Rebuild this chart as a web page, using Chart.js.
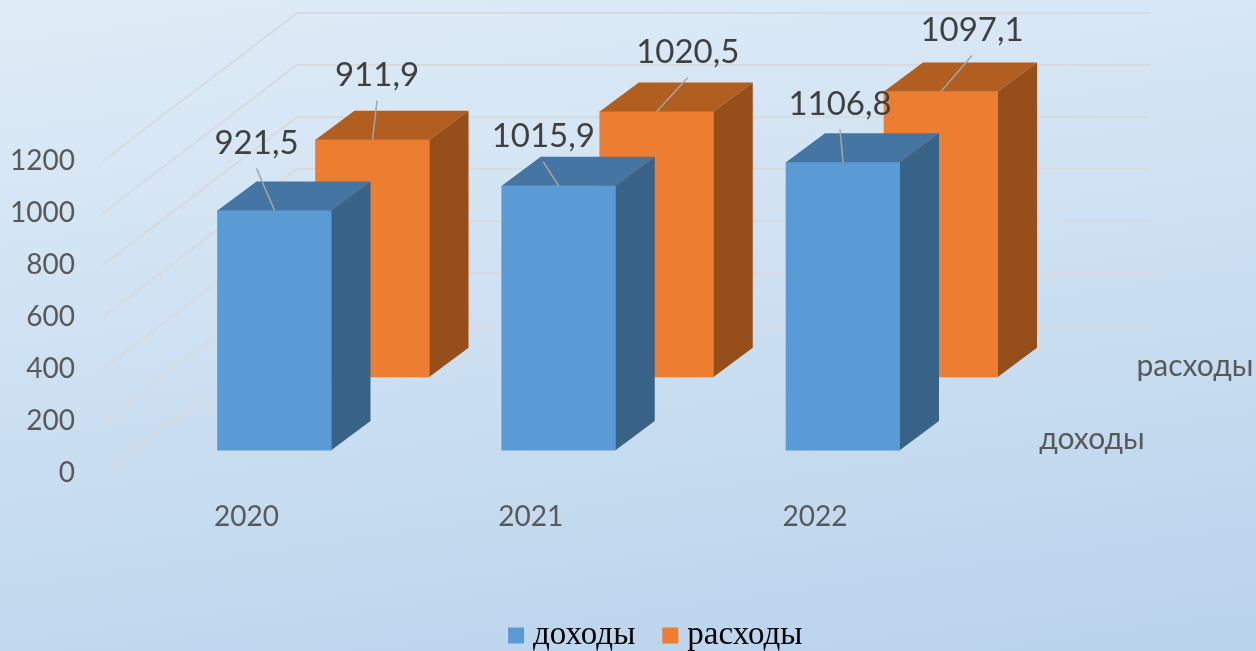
<!DOCTYPE html>
<html lang="ru">
<head>
<meta charset="utf-8">
<title>доходы и расходы</title>
<script src="https://cdn.jsdelivr.net/npm/chart.js@4"></script>
<style>
  html, body { margin: 0; padding: 0; }
  #page {
    width: 1256px; height: 651px; overflow: hidden;
    background: linear-gradient(172deg, #dfecf7 0%, #b9d3ec 100%);
  }
  canvas { display: block; }
</style>
</head>
<body>
<div id="page"><canvas id="chart" width="1318" height="662"></canvas></div>
<script>
// values
const categories = ['2020', '2021', '2022'];
const seriesNames = ['доходы', 'расходы'];
const incomes = [921.5, 1015.9, 1106.8];
const expenses = [911.9, 1020.5, 1097.1];
const yTicks = [0, 200, 400, 600, 800, 1000, 1200];

// data label offset from the top centre of each bar
const incomeLabelOffsets = [[-18, -67], [-15.5, -49], [-3, -58]];
const expenseLabelOffsets = [[4.5, -64], [31, -59], [31, -61]];

// fake 3d layout, in pixels (canvas runs past the window so the legend sits right of centre)
const plotLeft = 87, plotRight = 1318, plotTop = 30, plotBottom = 584;
const unitY = 0.2593;
const stepX = 284.25;
const depth = { x: 39, y: -29 };
const wall = { left: 103, backX: 297, backY: -148, right: 1150 };

const textColor = '#595959';
const labelColor = '#404040';
const uiFont = 'Lato, "Open Sans", sans-serif';

// min/max that put value 0 on the given pixel
function rangeY(zeroPx) {
  return { min: -(plotBottom - zeroPx) / unitY, max: (zeroPx - plotTop) / unitY };
}
function rangeX(firstPx) {
  return { min: -(firstPx - plotLeft) / stepX, max: (plotRight - firstPx) / stepX };
}

const faceColors = [
  { top: '#4576a3', side: '#386387' },
  { top: '#b15e20', side: '#964f1b' }
];

const cube3d = {
  id: 'cube3d',
  beforeDatasetsDraw(chart) {
    // walls: run in from the tick axis, then along the back
    const ctx = chart.ctx;
    const scale = chart.scales.yTick;
    ctx.save();
    ctx.strokeStyle = '#d6dbdf';
    ctx.lineWidth = 2;
    yTicks.forEach(v => {
      const py = scale.getPixelForValue(v);
      ctx.beginPath();
      ctx.moveTo(wall.left, py);
      ctx.lineTo(wall.backX, py + wall.backY);
      ctx.lineTo(wall.right, py + wall.backY);
      ctx.stroke();
    });
    ctx.restore();
  },
  afterDatasetDraw(chart, args) {
    const ctx = chart.ctx;
    const faces = faceColors[args.index];
    ctx.save();
    args.meta.data.forEach(bar => {
      const l = bar.x - bar.width / 2;
      const r = bar.x + bar.width / 2;
      ctx.fillStyle = faces.top;
      ctx.beginPath();
      ctx.moveTo(l, bar.y);
      ctx.lineTo(l + depth.x, bar.y + depth.y);
      ctx.lineTo(r + depth.x, bar.y + depth.y);
      ctx.lineTo(r, bar.y);
      ctx.closePath();
      ctx.fill();
      ctx.fillStyle = faces.side;
      ctx.beginPath();
      ctx.moveTo(r, bar.y);
      ctx.lineTo(r + depth.x, bar.y + depth.y);
      ctx.lineTo(r + depth.x, bar.base + depth.y);
      ctx.lineTo(r, bar.base);
      ctx.closePath();
      ctx.fill();
    });
    ctx.restore();
  },
  afterDatasetsDraw(chart) {
    const ctx = chart.ctx;
    const offsets = [incomeLabelOffsets, expenseLabelOffsets];
    const values = [incomes, expenses];
    ctx.save();
    ctx.textAlign = 'center';
    ctx.textBaseline = 'middle';
    [0, 1].forEach(ds => {
      chart.getDatasetMeta(ds).data.forEach((bar, i) => {
        const [dx, dy] = offsets[ds][i];
        ctx.strokeStyle = '#a6a6a6';
        ctx.lineWidth = 1.5;
        ctx.beginPath();
        ctx.moveTo(bar.x + dx, bar.y + dy + 25);
        ctx.lineTo(bar.x, bar.y);
        ctx.stroke();
        ctx.fillStyle = labelColor;
        ctx.font = '33px ' + uiFont;
        ctx.fillText(values[ds][i].toFixed(1).replace('.', ','), bar.x + dx, bar.y + dy);
      });
    });
    // names on the depth axis
    ctx.fillStyle = textColor;
    ctx.font = '30px ' + uiFont;
    ctx.fillText(seriesNames[1], 1195, 366);
    ctx.fillText(seriesNames[0], 1092, 439);
    ctx.restore();
  }
};

new Chart(document.getElementById('chart'), {
  type: 'bar',
  data: {
    datasets: [
      {
        label: seriesNames[0],
        data: incomes.map((v, i) => ({ x: i, y: v })),
        backgroundColor: '#5b9bd5',
        xAxisID: 'xFront',
        yAxisID: 'yFront'
      },
      {
        label: seriesNames[1],
        data: expenses.map((v, i) => ({ x: i, y: v })),
        backgroundColor: '#ed7d31',
        xAxisID: 'xBack',
        yAxisID: 'yBack'
      }
    ]
  },
  options: {
    responsive: false,
    animation: false,
    barThickness: 114,
    grouped: false,
    plugins: {
      tooltip: { enabled: false },
      legend: {
        position: 'bottom',
        labels: {
          padding: 34.5,
          boxWidth: 1,
          boxHeight: 1,
          color: textColor,
          font: { family: '"Liberation Serif", serif', size: 33, lineHeight: 1.2 },
          // thick outline, so the gap to the text stays narrow
          generateLabels: chart => chart.data.datasets.map((ds, i) => ({
            text: ds.label,
            fillStyle: ds.backgroundColor,
            strokeStyle: ds.backgroundColor,
            lineWidth: 15,
            datasetIndex: i
          }))
        }
      }
    },
    scales: {
      xFront: { type: 'linear', display: false, offset: false, ...rangeX(274.5) },
      xBack: { type: 'linear', display: false, offset: false, ...rangeX(372.5) },
      yFront: { type: 'linear', display: false, ...rangeY(450) },
      yBack: { type: 'linear', display: false, ...rangeY(377) },
      xTick: {
        type: 'linear',
        offset: false,
        position: { yFront: 0 },
        ...rangeX(246.5),
        border: { display: false },
        grid: { display: false, drawTicks: false },
        afterBuildTicks: scale => { scale.ticks = categories.map((c, i) => ({ value: i })); },
        ticks: {
          autoSkip: false,
          maxRotation: 0,
          padding: 50,
          color: textColor,
          font: { family: uiFont, size: 28 },
          callback: v => categories[v]
        }
      },
      yTick: {
        type: 'linear',
        position: 'left',
        ...rangeY(473),
        border: { display: false },
        grid: { display: false, drawTicks: false },
        afterFit: scale => { scale.width = plotLeft; },
        afterBuildTicks: scale => { scale.ticks = yTicks.map(v => ({ value: v })); },
        ticks: {
          autoSkip: false,
          padding: 12,
          color: textColor,
          font: { family: uiFont, size: 28 },
          callback: v => String(v)
        }
      }
    }
  },
  plugins: [cube3d]
});
</script>
</body>
</html>
